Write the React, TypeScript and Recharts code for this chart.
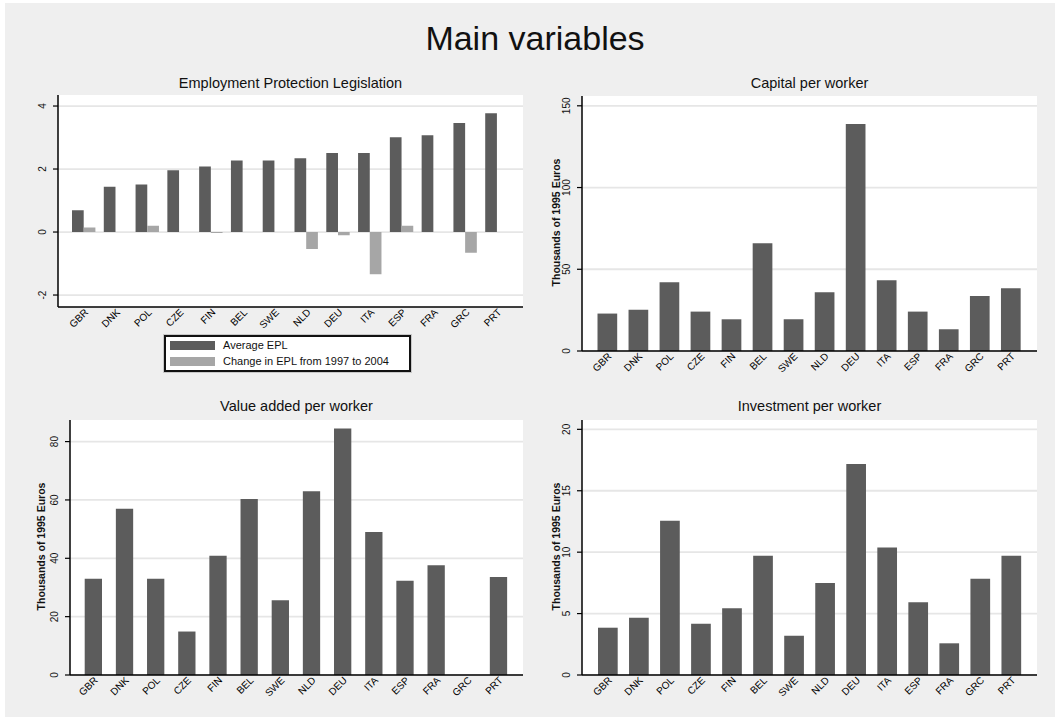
import React from "react";
import { BarChart, Bar, XAxis, YAxis, CartesianGrid } from "recharts";

const countries = ["GBR", "DNK", "POL", "CZE", "FIN", "BEL", "SWE", "NLD", "DEU", "ITA", "ESP", "FRA", "GRC", "PRT"];
const avgEpl = [0.69, 1.44, 1.51, 1.96, 2.08, 2.27, 2.27, 2.34, 2.51, 2.51, 3.01, 3.07, 3.46, 3.77];
const changeEpl = [0.14, 0, 0.2, 0, -0.03, 0, 0, -0.54, -0.1, -1.34, 0.2, 0, -0.66, 0];
const capital = [22.9, 25.3, 42.0, 24.1, 19.4, 65.9, 19.4, 35.9, 138.8, 43.3, 24.1, 13.3, 33.7, 38.4];
const valueAdded = [33.0, 57.0, 33.0, 14.9, 40.9, 60.3, 25.6, 63.0, 84.5, 49.0, 32.3, 37.6, null, 33.6];
const investment = [3.85, 4.67, 12.56, 4.18, 5.43, 9.71, 3.2, 7.49, 17.18, 10.37, 5.92, 2.58, 7.84, 9.71];

const eplTicks = [-2, 0, 2, 4];
const capitalTicks = [0, 50, 100, 150];
const valueTicks = [0, 20, 40, 60, 80];
const investTicks = [0, 5, 10, 15, 20];

const DARK = "#5c5c5c";
const LIGHT = "#a6a6a6";
const FONT = "'Liberation Sans', Arial, sans-serif";

const eplData = countries.map((c, i) => ({ country: c, avg: avgEpl[i], change: changeEpl[i] }));
const capData = countries.map((c, i) => ({ country: c, v: capital[i] }));
const vaData = countries.map((c, i) => ({ country: c, v: valueAdded[i] }));
const invData = countries.map((c, i) => ({ country: c, v: investment[i] }));

function YTick(props: any) {
  const { x, y, payload } = props;
  return (
    <text x={x} y={y} transform={`rotate(-90 ${x} ${y})`} textAnchor="middle" fontSize={10} fill="#111" fontFamily={FONT}>
      {payload.value}
    </text>
  );
}

function XTick(props: any) {
  const { x, y, payload } = props;
  const tx = x + 5;
  const ty = y + 6;
  return (
    <text x={tx} y={ty} transform={`rotate(-45 ${tx} ${ty})`} textAnchor="end" fontSize={10} fill="#000" fontFamily={FONT}>
      {payload.value}
    </text>
  );
}

function Title({ text, left, width, top }: { text: string; left: number; width: number; top: number }) {
  return (
    <div style={{ position: "absolute", left, width, top, textAlign: "center", fontSize: 14.5, lineHeight: "14.5px", fontFamily: FONT, color: "#111" }}>
      {text}
    </div>
  );
}

function YLabel({ cx, cy }: { cx: number; cy: number }) {
  return (
    <div
      style={{
        position: "absolute",
        left: cx - 100,
        top: cy - 5.5,
        width: 200,
        textAlign: "center",
        fontSize: 10.5,
        lineHeight: "11px",
        fontWeight: "bold",
        fontFamily: FONT,
        color: "#111",
        transform: "rotate(-90deg)",
      }}
    >
      Thousands of 1995 Euros
    </div>
  );
}

function SinglePanel({ data, left, top, width, height, margin, yWidth, domain, ticks, pad, barSize }: any) {
  return (
    <div style={{ position: "absolute", left, top }}>
      <BarChart width={width} height={height} data={data} margin={margin} barCategoryGap={0}>
        <CartesianGrid vertical={false} stroke="#e6e6e6" strokeWidth={1.8} fill="#ffffff" horizontalValues={ticks} />
        <XAxis dataKey="country" interval={0} tickLine={false} tickSize={0} tickMargin={0} height={24} padding={pad} tick={<XTick />} axisLine={{ stroke: "#000", strokeWidth: 1.5 }} />
        <YAxis width={yWidth} domain={domain} ticks={ticks} allowDataOverflow tickSize={5} tickMargin={7} tick={<YTick />} tickLine={{ stroke: "#000", strokeWidth: 1.2 }} axisLine={{ stroke: "#000", strokeWidth: 1.5 }} />
        <Bar dataKey="v" fill={DARK} barSize={barSize} isAnimationActive={false} />
      </BarChart>
    </div>
  );
}

export default function App() {
  return (
    <div style={{ position: "absolute", left: 0, top: 0, width: 1059, height: 724, background: "#ffffff", overflow: "hidden" }}>
      <div style={{ position: "absolute", left: 5, top: 3, width: 1050, height: 714, background: "#efefef" }} />
      <div style={{ position: "absolute", left: 0, width: 1070, top: 21, textAlign: "center", fontSize: 34, lineHeight: "34px", fontFamily: FONT, color: "#111" }}>
        Main variables
      </div>

      {/* Employment Protection Legislation */}
      <Title text="Employment Protection Legislation" left={58} width={465} top={76} />
      <div style={{ position: "absolute", left: 0, top: 70 }}>
        <BarChart width={530} height={310} data={eplData} margin={{ top: 25, right: 7, bottom: 49, left: 28 }} barGap={0}>
          <CartesianGrid vertical={false} stroke="#e6e6e6" strokeWidth={1.8} fill="#ffffff" horizontalValues={eplTicks} />
          <XAxis dataKey="country" interval={0} tickLine={false} tickSize={0} tickMargin={0} height={24} padding={{ left: 10, right: 10 }} tick={<XTick />} axisLine={{ stroke: "#000", strokeWidth: 1.5 }} />
          <YAxis width={30} domain={[-2.38, 4.35]} ticks={eplTicks} allowDataOverflow tickSize={5} tickMargin={7} tick={<YTick />} tickLine={{ stroke: "#000", strokeWidth: 1.2 }} axisLine={{ stroke: "#000", strokeWidth: 1.5 }} />
          <Bar dataKey="avg" fill={DARK} barSize={11.7} isAnimationActive={false} />
          <Bar dataKey="change" fill={LIGHT} barSize={11.7} isAnimationActive={false} />
        </BarChart>
      </div>
      <div
        style={{
          position: "absolute",
          left: 164,
          top: 335,
          width: 243,
          height: 33,
          border: "2px solid #111",
          boxShadow: "0 0 0 1px #c8c8c8",
          background: "#fff",
          fontFamily: FONT,
          fontSize: 11,
          color: "#111",
        }}
      >
        <div style={{ position: "absolute", left: 4, top: 4, width: 45, height: 9, background: DARK }} />
        <div style={{ position: "absolute", left: 57, top: 2, lineHeight: "12px" }}>Average EPL</div>
        <div style={{ position: "absolute", left: 4, top: 20, width: 45, height: 9, background: LIGHT }} />
        <div style={{ position: "absolute", left: 57, top: 18, lineHeight: "12px" }}>Change in EPL from 1997 to 2004</div>
      </div>

      {/* Capital per worker */}
      <Title text="Capital per worker" left={582} width={455} top={76} />
      <SinglePanel data={capData} left={540} top={70} width={510} height={310} margin={{ top: 26, right: 13, bottom: 5, left: 6 }} yWidth={36} domain={[0, 156]} ticks={capitalTicks} pad={{ left: 9.5, right: 11 }} barSize={19.7} />
      <YLabel cx={556} cy={222} />

      {/* Value added per worker */}
      <Title text="Value added per worker" left={70} width={453} top={399} />
      <SinglePanel data={vaData} left={0} top={395} width={530} height={320} margin={{ top: 25, right: 7, bottom: 16, left: 30 }} yWidth={40} domain={[0, 87.4]} ticks={valueTicks} pad={{ left: 7.7, right: 9 }} barSize={17.3} />
      <YLabel cx={41} cy={546} />

      {/* Investment per worker */}
      <Title text="Investment per worker" left={582} width={455} top={399} />
      <SinglePanel data={invData} left={540} top={395} width={510} height={320} margin={{ top: 25, right: 13, bottom: 16, left: 6 }} yWidth={36} domain={[0, 20.76]} ticks={investTicks} pad={{ left: 10, right: 10.5 }} barSize={19.7} />
      <YLabel cx={556} cy={546} />
    </div>
  );
}
